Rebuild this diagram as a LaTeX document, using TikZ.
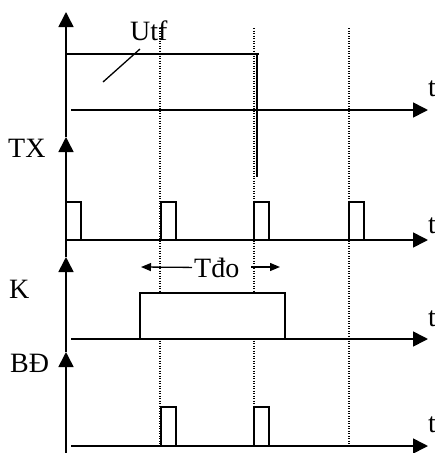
\documentclass[tikz,border=0pt]{standalone}
\usepackage{fontspec}
\setmainfont{Liberation Serif}
\usetikzlibrary{arrows.meta}
\begin{document}
\begin{tikzpicture}[x=1pt,y=-1pt,
  axis/.style={line width=1.6pt,-{Triangle[length=15pt,width=15pt]}},
  sig/.style={line width=1.3pt},
  strong/.style={line width=2pt},
  guide/.style={line width=1.2pt,dash pattern=on 1.2pt off 1.3pt},
  lbl/.style={inner sep=0pt,anchor=base west,font=\fontsize{28}{30}\selectfont},
  dimarrow/.style={line width=1.3pt,-{Triangle[length=10pt,width=8pt]}}]
\useasboundingbox (0,0) rectangle (435,453);
% guides
\coordinate (g1t) at (160,28); \coordinate (g1b) at (160,446);
\coordinate (g2t) at (254,28); \coordinate (g2b) at (254,446);
\coordinate (g3t) at (349,28); \coordinate (g3b) at (349,446);
\draw[guide] (g1t) -- (g1b);
\draw[guide] (g2t) -- (g2b);
\draw[guide] (g3t) -- (g3b);
% K pulse (white filled, hides guides)
\draw[sig,fill=white] (140,339) |- (285,293) -- (285,339);
% TX pulses
\foreach \x in {66,161,254,349} {\draw[sig] (\x,240) |- (\x+15,202) -- (\x+15,240);}
% BD pulses
\foreach \x in {161,254} {\draw[sig,fill=white] (\x,446) |- (\x+15,407) -- (\x+15,446);}
% vertical axes
\coordinate (v0) at (66,453);
\coordinate (v1) at (66,352);
\coordinate (v2) at (66,257);
\coordinate (v3) at (66,137);
\coordinate (v4) at (66,12);
\draw[axis] (v0) -- (v1);
\draw[axis] (v1) -- (v2);
\draw[axis] (v2) -- (v3);
\draw[axis] (v3) -- (v4);
% horizontal axes
\coordinate (h1s) at (71,110);  \coordinate (h1e) at (428,110);
\coordinate (h2s) at (66,240);  \coordinate (h2e) at (428,240);
\coordinate (h3s) at (71,339);  \coordinate (h3e) at (428,339);
\coordinate (h4s) at (71,446);  \coordinate (h4e) at (428,446);
\draw[axis] (h1s) -- (h1e);
\draw[axis] (h2s) -- (h2e);
\draw[axis] (h3s) -- (h3e);
\draw[axis] (h4s) -- (h4e);
% Utf signal
\draw[strong] (66,54) -- (259,54);
\draw[strong] (257,54) -- (257,177);
% labels
\node[lbl] (utf) at (130,40) {Utf};
\coordinate (ld1) at (103,82); \coordinate (ld2) at (140,49);
\draw[sig] (ld1) -- (ld2);
\node[lbl] (tx) at (8,157) {TX};
\node[lbl] (k) at (9,298) {K};
\node[lbl] (bd) at (10,372) {BĐ};
\node[lbl] (tdo) at (194,277) {Tđo};
\coordinate (al) at (141,267); \coordinate (ar) at (280,267);
\draw[dimarrow] ([xshift=-2pt]tdo.west) -- (al);
\draw[dimarrow] (251,267) -- (ar);
\node[lbl] (t1) at (428,96) {t};
\node[lbl] (t2) at (428,233) {t};
\node[lbl] (t3) at (428,326) {t};
\node[lbl] (t4) at (428,432) {t};
\end{tikzpicture}
\end{document}
